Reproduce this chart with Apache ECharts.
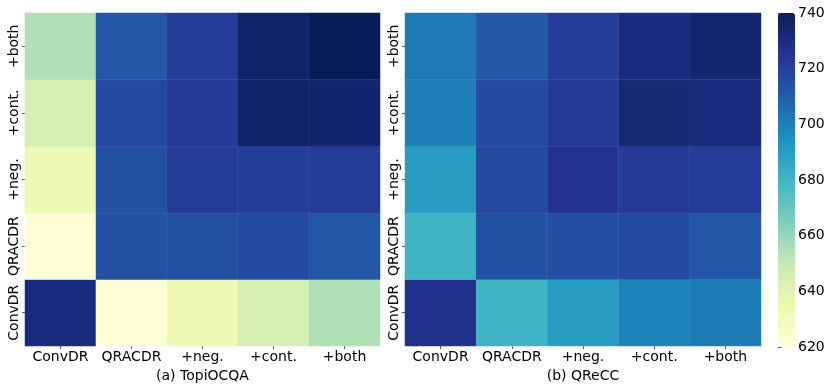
<!DOCTYPE html>
<html>
<head>
<meta charset="utf-8">
<script src="https://cdn.jsdelivr.net/npm/echarts@6/dist/echarts.min.js"></script>
<style>
html,body{margin:0;padding:0;background:#fff;}
#chart{width:830px;height:389px;}
</style>
</head>
<body>
<div id="chart"></div>
<script>
// categories (x: left->right, y: bottom->top)
const categories = ["ConvDR", "QRACDR", "+neg.", "+cont.", "+both"];
const titles = ["(a) TopiOCQA", "(b) QReCC"];
// values per row (row = y category, bottom to top), columns = x categories
const topiRows = [
  [731, 621, 633, 645, 655],   // ConvDR
  [621, 715, 715, 717, 713],   // QRACDR
  [633, 715, 722, 721, 722],   // +neg.
  [645, 717, 723, 736, 735],   // +cont.
  [655, 713, 722, 736, 740]    // +both
];
const qreccRows = [
  [727, 681, 690, 699, 701],   // ConvDR
  [681, 715, 716, 717, 713],   // QRACDR
  [690, 717, 726, 723, 722],   // +neg.
  [700, 717, 723, 733, 731],   // +cont.
  [702, 712, 722, 731, 734]    // +both
];
const colorTicks = [620, 640, 660, 680, 700, 720, 740];
const vMin = 620, vMax = 740;

const ylgnbu = ["#ffffd9","#edf8b1","#c7e9b4","#7fcdbb","#41b6c4","#1d91c0","#225ea8","#253494","#081d58"];

function toData(rows){
  const out = [];
  rows.forEach((r, yi) => r.forEach((v, xi) => out.push([xi, yi, v])));
  return out;
}

const FONT = "DejaVu Sans";
const FS = 14;
const grids = [
  {left: 25, top: 13, width: 355, height: 333},
  {left: 405, top: 13, width: 356, height: 333},
  {left: 778, top: 13, width: 17, height: 334}
];

function xAx(i){
  return {
    type: 'category', gridIndex: i, data: categories,
    axisLine: {show: false},
    axisTick: {show: true, alignWithLabel: true, length: 3, lineStyle: {color: '#333', width: 0.8}},
    axisLabel: {color: '#000', fontFamily: FONT, fontSize: FS, margin: 4, interval: 0},
    splitLine: {show: false},
    name: titles[i], nameLocation: 'middle', nameGap: 17,
    nameTextStyle: {color: '#000', fontFamily: FONT, fontSize: FS}
  };
}
function yAx(i){
  return {
    type: 'category', gridIndex: i, data: categories,
    axisLine: {show: false},
    axisTick: {show: true, alignWithLabel: true, length: 3, lineStyle: {color: '#333', width: 0.8}},
    axisLabel: {color: '#000', fontFamily: FONT, fontSize: FS, margin: 4, rotate: 90, interval: 0},
    splitLine: {show: false}
  };
}

const chart = echarts.init(document.getElementById('chart'), null, {renderer: 'canvas'});
chart.setOption({
  animation: false,
  backgroundColor: '#fff',
  grid: grids,
  xAxis: [xAx(0), xAx(1), {type: 'value', gridIndex: 2, show: false, min: 0, max: 1}],
  yAxis: [yAx(0), yAx(1), {
    type: 'value', gridIndex: 2, position: 'right', min: vMin, max: vMax, interval: 20,
    axisLine: {show: false},
    axisTick: {show: true, length: 3.5, lineStyle: {color: '#333', width: 0.8}},
    axisLabel: {color: '#000', fontFamily: FONT, fontSize: FS, margin: 3,
      formatter: v => colorTicks.includes(v) ? String(v) : ''},
    splitLine: {show: false}
  }],
  visualMap: {
    type: 'continuous', min: vMin, max: vMax, calculable: false, seriesIndex: [0, 1],
    inRange: {color: ylgnbu},
    orient: 'vertical', left: 778, top: 13, itemWidth: 17, itemHeight: 334,
    text: null, showLabel: false, padding: 0, borderWidth: 0
  },
  series: [
    {type: 'heatmap', xAxisIndex: 0, yAxisIndex: 0, data: toData(topiRows),
     itemStyle: {borderWidth: 0.5, borderColor: 'rgba(255,255,255,0.12)'}},
    {type: 'heatmap', xAxisIndex: 1, yAxisIndex: 1, data: toData(qreccRows),
     itemStyle: {borderWidth: 0.5, borderColor: 'rgba(255,255,255,0.12)'}}
  ]
});
</script>
</body>
</html>
